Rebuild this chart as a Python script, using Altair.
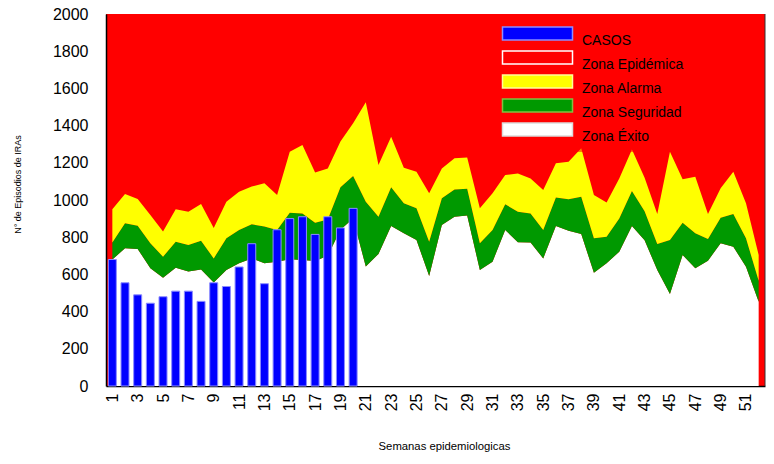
import altair as alt
import pandas as pd

# ---- data ----
semanas = list(range(1, 53))

casos = [680, 555, 490, 445, 480, 510, 510, 455, 555, 535, 640, 765, 550, 840,
         900, 910, 815, 910, 850, 955]

# upper limit of each zone (cumulative values)
exito = [680, 740, 737, 633, 582, 636, 615, 627, 556, 624, 660, 686, 660, 668,
         681, 677, 672, 700, 840, 900, 642, 710, 860, 821, 785, 591, 866, 910,
         916, 624, 668, 839, 773, 771, 686, 860, 835, 817, 609, 660, 722, 860,
         783, 624, 495, 704, 633, 674, 767, 749, 641, 453]
seguridad = [771, 875, 862, 767, 695, 776, 758, 781, 686, 794, 839, 869, 857, 839,
             932, 928, 878, 895, 1068, 1129, 991, 910, 1068, 982, 955, 776, 1009,
             1057, 1061, 767, 839, 977, 937, 928, 839, 1014, 1004, 1018, 794, 803,
             901, 1048, 940, 763, 785, 878, 821, 790, 905, 925, 794, 566]
alarma = [950, 1032, 1005, 919, 830, 950, 937, 978, 850, 991, 1045, 1072, 1090,
          1027, 1260, 1296, 1148, 1170, 1314, 1412, 1525, 1188, 1340, 1174, 1152,
          1036, 1170, 1224, 1228, 955, 1036, 1134, 1143, 1116, 1054, 1197, 1206,
          1278, 1027, 986, 1116, 1272, 1120, 925, 1260, 1111, 1125, 925, 1063,
          1152, 982, 704]

series = ["CASOS", "Zona Epidémica", "Zona Alarma", "Zona Seguridad", "Zona Éxito"]
fill_colors = ["#0000ff", "#ff0000", "#ffff00", "#009900", "#ffffff"]
stroke_colors = ["#8c8cff", "#ffffff", "#ffff99", "#80c040", "#dcdcdc"]

y_ticks = list(range(0, 2001, 200))
x_ticks = list(range(1, 52, 2))
x_domain = [0.5, 52.5]
y_domain = [0, 2000]

# ---- tables ----
rows = []
for i, w in enumerate(semanas):
    rows.append({"semana": w, "serie": "Zona Éxito", "lo": 0, "hi": exito[i]})
    rows.append({"semana": w, "serie": "Zona Seguridad", "lo": exito[i], "hi": seguridad[i]})
    rows.append({"semana": w, "serie": "Zona Alarma", "lo": seguridad[i], "hi": alarma[i]})
zonas = pd.DataFrame(rows)
barras = pd.DataFrame({"semana": semanas[:len(casos)], "serie": "CASOS", "casos": casos})
marco = pd.DataFrame({"semana": [x_domain[1]], "lo": [y_domain[0]], "hi": [y_domain[1]]})

FONT = "Liberation Sans"

legend = alt.Legend(
    title=None, orient="none", legendX=416, legendY=4,
    symbolType="M-5.385,-1H5.385V1H-5.385Z", symbolSize=169,
    symbolStrokeWidth=1.5, symbolOpacity=1,
    labelFont=FONT, labelFontSize=14, labelColor="black",
    labelOffset=37, labelBaseline="top", labelLimit=300,
    rowPadding=0, padding=8, fillColor="rgba(255,0,0,0.5)",
)

x_scale = alt.Scale(domain=x_domain, nice=False, zero=False, padding=0)
y_scale = alt.Scale(domain=y_domain, nice=False)
color_scale = alt.Scale(domain=series, range=fill_colors)
stroke_scale = alt.Scale(domain=series, range=stroke_colors)

x_axis = alt.Axis(
    values=x_ticks, format="d", labelAngle=270, labelFont=FONT, labelFontSize=16,
    labelColor="black", labelPadding=7, labelOverlap=False, labelFlush=False,
    labelBound=False, ticks=False, tickSize=0, grid=False,
    domainColor="black", domainWidth=1.5,
    title="Semanas epidemiologicas", titleFont=FONT, titleFontSize=11.3,
    titleFontWeight="normal", titleColor="black",
    titleX=338, titleY=60, titleAlign="center", titleBaseline="middle",
)
y_axis = alt.Axis(
    values=y_ticks, format="d", labelFont=FONT, labelFontSize=16, labelColor="black",
    labelPadding=18, labelOverlap=False, labelFlush=False, labelBound=False,
    ticks=False, tickSize=0, grid=False,
    domainColor="black", domainWidth=1.5,
    title="N° de Episodios de IRAs", titleFont=FONT, titleFontSize=9,
    titleFontWeight="normal", titleColor="black",
    titleX=-89, titleY=170, titleAngle=270, titleAlign="center",
    titleBaseline="middle",
)

X = alt.X("semana:Q", scale=x_scale, axis=x_axis)

areas = alt.Chart(zonas).mark_area(interpolate="linear").encode(
    x=X,
    y=alt.Y("lo:Q", scale=y_scale, axis=y_axis),
    y2="hi:Q",
    color=alt.Color("serie:N", scale=color_scale, legend=legend),
)

bars = alt.Chart(barras).mark_bar(size=8, strokeWidth=1).encode(
    x=X,
    y=alt.Y("casos:Q", scale=y_scale, axis=y_axis),
    color=alt.Color("serie:N", scale=color_scale, legend=legend),
    stroke=alt.Stroke("serie:N", scale=stroke_scale, legend=legend),
)

borde = alt.Chart(marco).mark_rule(color="#333333", strokeWidth=1).encode(
    x=X,
    y=alt.Y("lo:Q", scale=y_scale, axis=y_axis),
    y2="hi:Q",
)

chart = alt.layer(areas, bars, borde).properties(
    width=659, height=372,
    autosize=alt.AutoSizeParams(type="none"),
    padding={"left": 98, "top": 6, "right": 1, "bottom": 66},
).configure(
    background="white",
    view=alt.ViewConfig(fill="#ff0000", strokeWidth=0),
)

chart.save("out.html", embed_options={"renderer": "svg", "actions": False})
